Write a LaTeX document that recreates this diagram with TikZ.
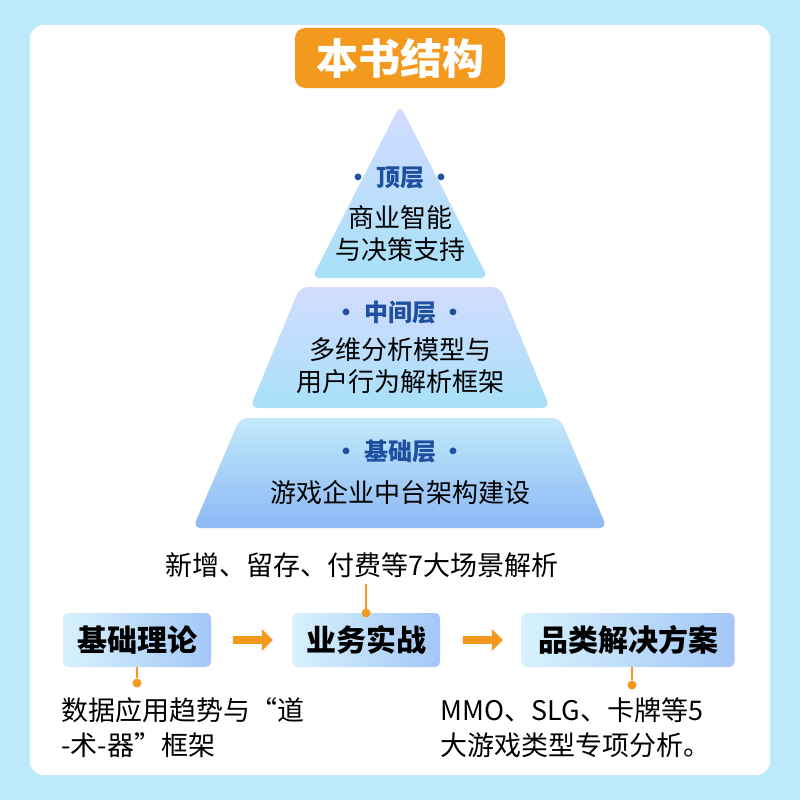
\documentclass[tikz,border=0pt]{standalone}
\usepackage{fontspec}
\setmainfont{Noto Sans CJK SC}
\usetikzlibrary{shapes.arrows}
\definecolor{bgb}{HTML}{BDE9FB}
\definecolor{ttl}{HTML}{1E4FA0}
\definecolor{org}{HTML}{F39A1E}
\definecolor{tierA}{HTML}{D2DCFF}
\definecolor{tierB}{HTML}{A8E0F8}
\definecolor{tierC}{HTML}{8CB8F5}
\tikzset{
 tier/.style={rounded corners=8pt, top color=tierA, bottom color=tierB, draw=none},
 tier2/.style={rounded corners=8pt, top color=tierB!70!white, bottom color=tierC, draw=none},
 head/.style={font=\bfseries\fontsize{24}{24}\selectfont, text=ttl},
 tbody/.style={font=\fontsize{26}{30}\selectfont, text=black},
 body/.style={font=\fontsize{27}{30}\selectfont, text=black},
 box/.style={rounded corners=5pt, left color=bgb!60!white, right color=tierC!80!white, minimum height=54pt, font=\bfseries\fontsize{30}{30}\selectfont},
 arr/.style={single arrow, fill=org, draw=none, minimum height=40pt, minimum width=22pt, single arrow head extend=4pt, inner sep=2pt},
 dot/.style={circle, fill=org, inner sep=0pt, minimum size=9pt},
 lnk/.style={org, line width=1.5pt}
}
\begin{document}
\begin{tikzpicture}[x=1pt,y=-1pt]
\useasboundingbox (0,0) rectangle (800,800);
\fill[bgb] (0,0) rectangle (800,800);
\fill[white, rounded corners=14pt] (30,25) rectangle (770,775);
\node[fill=org, rounded corners=10pt, minimum width=210pt, minimum height=60pt, text=white, font=\bfseries\fontsize{42}{42}\selectfont] (title) at (400,58) {本书结构};
% pyramid
\path[tier] (400,105) -- (488,278) -- (312,278) -- cycle;
\path[tier] (300,287) -- (500,287) -- (550,408) -- (250,408) -- cycle;
\path[tier2] (240,418) -- (560,418) -- (607,528) -- (193,528) -- cycle;
\node[head] (t1) at (400,178) {· 顶层 ·};
\node[tbody] (t1a) at (400,218) {商业智能};
\node[tbody] (t1b) at (400,250) {与决策支持};
\node[head] (t2) at (400,313) {· 中间层 ·};
\node[tbody] (t2a) at (400,350) {多维分析模型与};
\node[tbody] (t2b) at (400,382) {用户行为解析框架};
\node[head] (t3) at (400,452) {· 基础层 ·};
\node[tbody] (t3a) at (400,493) {游戏企业中台架构建设};
% boxes
\node[body] (top) at (362,565) {新增、留存、付费等7大场景解析};
\node[box, minimum width=148pt] (b1) at (137,640) {基础理论};
\node[box, minimum width=148pt] (b2) at (366,640) {业务实战};
\node[box, minimum width=213pt] (b3) at (628,640) {品类解决方案};
\node[arr] (a1) at (251,640) {};
\node[arr] (a2) at (481,640) {};
\coordinate (c2) at (366,584);
\draw[lnk] (c2) -- (b2.north);
\node[dot] (d2) at (366,613) {};
\node[dot] (d1) at (137,683) {};
\draw[lnk] (b1.south) -- (d1);
\node[dot] (d3) at (632,685) {};
\draw[lnk] ([xshift=4pt]b3.south) -- (d3);
\node[body, anchor=west] (l1) at (58,710) {数据应用趋势与“道};
\node[body, anchor=west] (l2) at (58,745) {-术-器”框架};
\node[body, anchor=west] (r1) at (437,710) {MMO、SLG、卡牌等5};
\node[body, anchor=west] (r2) at (437,745) {大游戏类型专项分析。};
\end{tikzpicture}
\end{document}
